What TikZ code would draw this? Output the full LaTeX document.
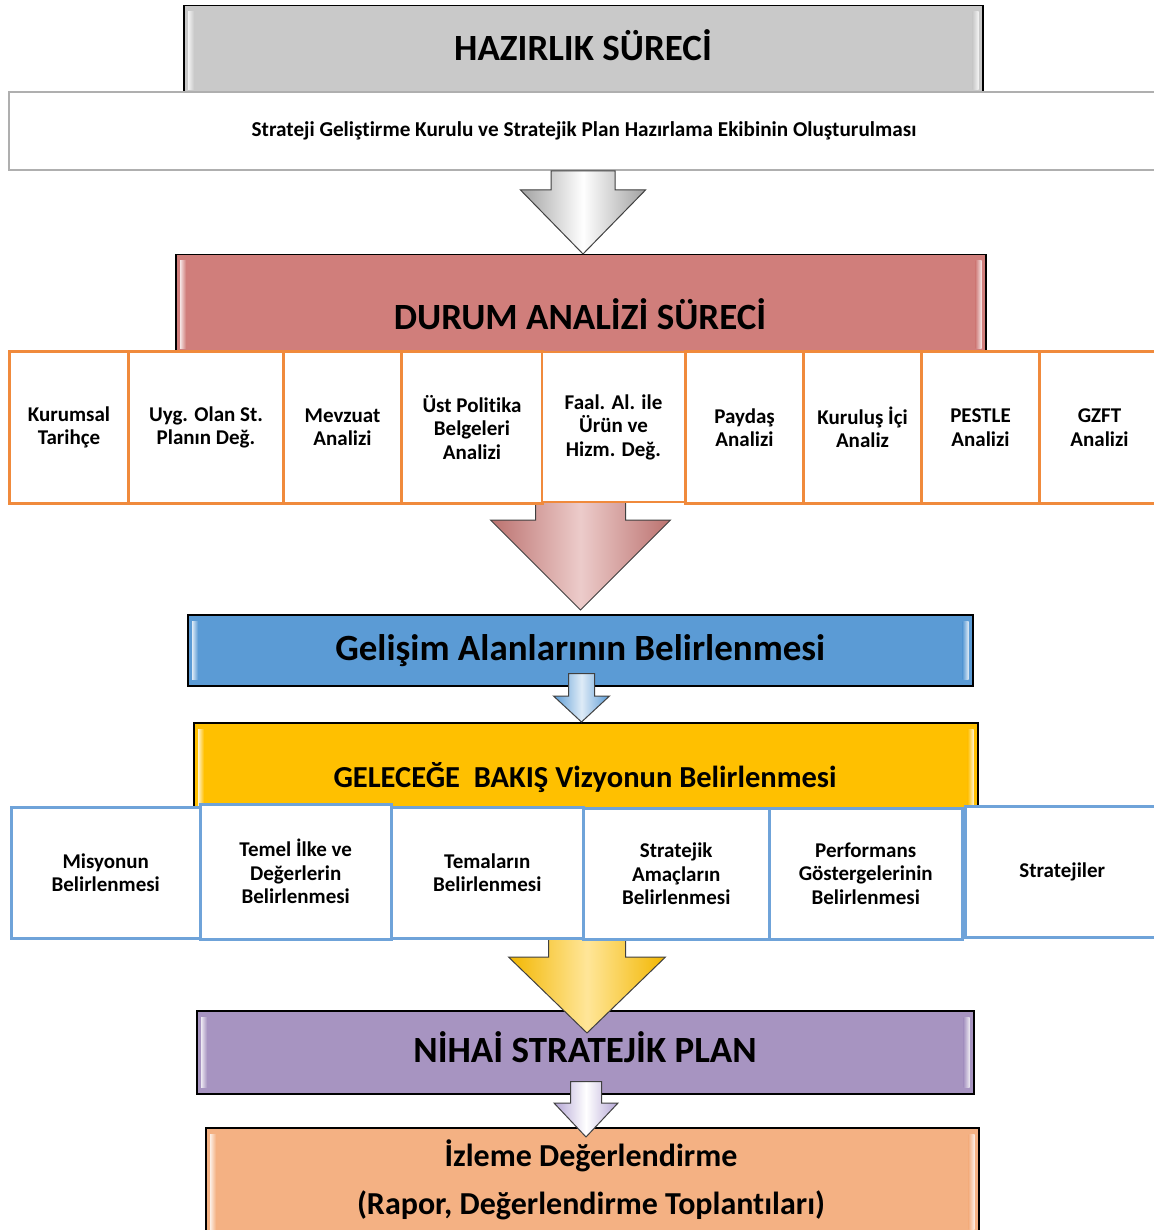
\documentclass[tikz,border=0pt]{standalone}
\usepackage{fontspec}
\setmainfont{Carlito}[Ligatures=NoCommon]
\usetikzlibrary{calc}
\definecolor{cgray}{RGB}{201,201,201}
\definecolor{cred}{RGB}{208,126,123}
\definecolor{cblue}{RGB}{91,155,213}
\definecolor{cyel}{RGB}{255,192,0}
\definecolor{cpur}{RGB}{167,148,193}
\definecolor{corg}{RGB}{244,177,131}
\definecolor{orbd}{RGB}{240,138,60}
\definecolor{blbd}{RGB}{111,163,217}
\definecolor{wbd}{RGB}{175,175,175}
\definecolor{apur}{RGB}{180,165,213}
\tikzset{
  bigbox/.style={draw=black, line width=1.5pt, inner sep=0pt, anchor=north west},
  whitebox/.style={draw=wbd, fill=white, line width=2pt, inner sep=0pt, anchor=north west},
  obox/.style={draw=orbd, fill=white, line width=3pt, inner sep=0pt, anchor=north west, align=center,
    font=\bfseries\fontsize{21}{23.5}\selectfont},
  bbox/.style={draw=blbd, fill=white, line width=2.5pt, inner sep=0pt, anchor=north west, align=center,
    font=\bfseries\fontsize{21}{23.5}\selectfont},
  ttl/.style={font=\bfseries\fontsize{37}{44}\selectfont, inner sep=0pt},
  barrowstyle/.style={draw=black!75, line width=1pt, line join=miter}
}
% #1 style, #2 top point, #3 tip point, #4 stem half width, #5 head half width, #6 head length
\newcommand\blockarrow[6]{%
  \path[#1] let \p1=(#2), \p2=(#3) in
    (\x1-#4pt,\y1) -- (\x1-#4pt,\y2+#6pt) -- (\x1-#5pt,\y2+#6pt) -- (\x2,\y2)
    -- (\x1+#5pt,\y2+#6pt) -- (\x1+#4pt,\y2+#6pt) -- (\x1+#4pt,\y1) -- cycle;}
% bevel highlights on box #1 with base colour #2
\newcommand\bevel[2]{%
  \shade[left color=white, right color=#2, opacity=0.8]
    ([xshift=5pt,yshift=-7pt]#1.north west) rectangle ([xshift=11pt,yshift=7pt]#1.south west);
  \shade[left color=#2, right color=white, opacity=0.8]
    ([xshift=-11pt,yshift=-7pt]#1.north east) rectangle ([xshift=-5pt,yshift=7pt]#1.south east);}
\begin{document}
\begin{tikzpicture}[x=1pt,y=-1pt]
\useasboundingbox (0,0) rectangle (1153,1230);
\fill[white] (0,0) rectangle (1153,1230);
% axes for arrows
\coordinate (ax1) at (583,0);
\coordinate (ax2) at (580.5,0);
\coordinate (ax3) at (581.5,0);
\coordinate (ax4) at (587,0);
\coordinate (ax5) at (586,0);

% HAZIRLIK
\node[bigbox, fill=cgray, minimum width=799pt, minimum height=90pt] (hb) at (183,5) {};
\bevel{hb}{cgray}
\node[ttl] (ht) at (583,45) {HAZIRLIK SÜRECİ};
\node[whitebox, minimum width=1150pt, minimum height=78pt,
  font=\bfseries\fontsize{21.2}{24}\selectfont] (wb) at (8,91)
  {Strateji Geliştirme Kurulu ve Stratejik Plan Hazırlama Ekibinin Oluşturulması};

% DURUM
\node[bigbox, fill=cred, minimum width=810pt, minimum height=100pt] (rb) at (175,254) {};
\bevel{rb}{cred}
\node[ttl] (rt) at (580,314) {DURUM ANALİZİ SÜRECİ};
\blockarrow{barrowstyle, left color=cgray!80!black, right color=cgray!80!black, middle color=white}
  {wb.south -| ax1}{rb.north -| ax1}{32}{62.5}{64}

% GELISIM
\node[bigbox, fill=cblue, minimum width=785pt, minimum height=71pt,
  font=\bfseries\fontsize{37}{44}\selectfont] (gb) at (187,614) {Gelişim Alanlarının Belirlenmesi};
\bevel{gb}{cblue}
\blockarrow{barrowstyle, left color=cred!90!black, right color=cred!90!black, middle color=cred!40!white}
  {$(rb.south -| ax2)+(0,-2)$}{$(gb.north -| ax2)+(0,-4)$}{45}{90}{90}

\node[obox, minimum width=119pt, minimum height=152pt] (o1) at (8,350) {Kurumsal\\Tarihçe};
\node[obox, minimum width=155pt, minimum height=152pt] (o2) at (127,350) {Uyg. Olan St.\\Planın Değ.};
\node[obox, minimum width=118pt, minimum height=152pt] (o3) at (282,350) {Mevzuat\\Analizi};
\node[obox, minimum width=141pt, minimum height=152pt] (o4) at (400,350) {Üst Politika\\Belgeleri\\Analizi};
\node[obox, line width=2pt, minimum width=143pt, minimum height=150pt] (o5) at (541,351) {Faal. Al. ile\\Ürün ve\\Hizm. Değ.};
\node[obox, minimum width=118pt, minimum height=152pt] (o6) at (684,350) {Paydaş\\Analizi};
\node[obox, minimum width=118pt, minimum height=152pt] (o7) at (802,350) {Kuruluş İçi\\Analiz};
\node[obox, minimum width=118pt, minimum height=152pt] (o8) at (920,350) {PESTLE\\Analizi};
\node[obox, minimum width=120pt, minimum height=152pt] (o9) at (1038,350) {GZFT\\Analizi};

% GELECEGE
\node[bigbox, fill=cyel, minimum width=784pt, minimum height=90pt] (yb) at (193,722) {};
\bevel{yb}{cyel}
\node[inner sep=0pt, font=\bfseries\fontsize{30.5}{36}\selectfont] (yt) at (585,778) {GELECEĞE\ \ BAKIŞ Vizyonun Belirlenmesi};
\blockarrow{barrowstyle, left color=cblue, right color=cblue, middle color=cblue!20!white}
  {$(gb.south -| ax3)+(0,-13)$}{yb.north -| ax3}{13}{28}{26}

% NIHAI
\node[bigbox, fill=cpur, minimum width=777pt, minimum height=83pt] (pb) at (196,1010) {};
\bevel{pb}{cpur}
\node[ttl] (pt) at (585,1047) {NİHAİ STRATEJİK PLAN};
\blockarrow{barrowstyle, left color=cyel!95!black, right color=cyel!95!black, middle color=cyel!40!white}
  {$(yb.south -| ax4)+(0,120)$}{$(pb.north -| ax4)+(0,23)$}{38.5}{78.5}{76}

\node[bbox, minimum width=189pt, minimum height=131pt] (b1) at (10,806) {Misyonun\\Belirlenmesi};
\node[bbox, minimum width=191pt, minimum height=135pt] (b2) at (199,803) {Temel İlke ve\\Değerlerin\\Belirlenmesi};
\node[bbox, minimum width=192pt, minimum height=131pt] (b3) at (390,806) {Temaların\\Belirlenmesi};
\node[bbox, minimum width=186pt, minimum height=131pt] (b4) at (582,807) {Stratejik\\Amaçların\\Belirlenmesi};
\node[bbox, minimum width=193pt, minimum height=131pt] (b5) at (768,807) {Performans\\Göstergelerinin\\Belirlenmesi};
\node[bbox, minimum width=194pt, minimum height=131pt] (b6) at (964,805) {Stratejiler};

% IZLEME
\node[bigbox, fill=corg, minimum width=773pt, minimum height=115pt] (fb) at (205,1127) {};
\bevel{fb}{corg}
\node[inner sep=0pt, font=\bfseries\fontsize{32}{38}\selectfont] (ft1) at (591,1156) {İzleme Değerlendirme};
\node[inner sep=0pt, font=\bfseries\fontsize{32}{38}\selectfont] (ft2) at (591,1205) {(Rapor, Değerlendirme Toplantıları)};
\blockarrow{barrowstyle, left color=apur, right color=apur, middle color=white}
  {$(pb.south -| ax5)+(0,-13)$}{$(fb.north -| ax5)+(0,10)$}{15.5}{32}{34}
\end{tikzpicture}
\end{document}
